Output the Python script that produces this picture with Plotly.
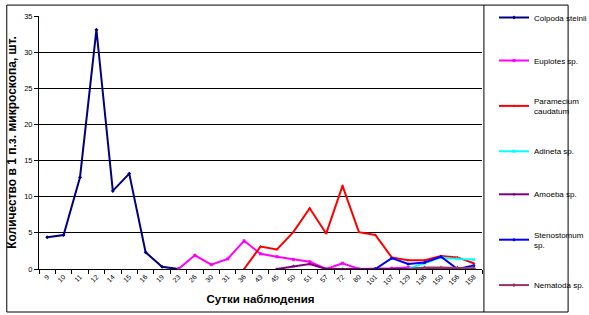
import plotly.graph_objects as go

days = ["9", "10", "11", "12", "14", "15", "16", "19", "23", "26", "30", "31", "36", "43",
        "45", "50", "51", "57", "72", "80", "101", "107", "129", "136", "150", "156", "158"]

colpoda = [4.4, 4.7, 12.7, 33.1, 10.8, 13.2, 2.3, 0.3, 0] + [None] * 18
euplotes = [None] * 8 + [0, 1.9, 0.6, 1.4, 3.9, 2.1, 1.7, 1.3, 1.0, 0, 0.8, 0, 0, 0.1, 0.2, 0, 0, 0, 0]
paramecium = [None] * 12 + [0, 3.1, 2.7, 5.1, 8.4, 4.9, 11.5, 5.1, 4.7, 1.6, 1.2, 1.2, 1.8, 1.6, 0.8]
adineta = [None] * 22 + [0, 0.8, 1.6, 1.4, 1.3]
amoeba = [None] * 14 + [0, 0.4, 0.7, 0, 0, 0, 0, 0, 0, 0, 0, 0, 0]
stenostomum = [None] * 20 + [0, 1.5, 0.7, 0.9, 1.7, 0, 0.5]
nematoda = [None] * 22 + [0, 0.2, 0.2, 0.2, 0.1]

series = [
    ("Colpoda steinii", colpoda, "#000080", "diamond"),
    ("Euplotes sp.", euplotes, "#FF00FF", "square"),
    ("Paramecium<br>caudatum", paramecium, "#FF0000", "triangle-up"),
    ("Adineta sp.", adineta, "#00FFFF", "x"),
    ("Amoeba sp.", amoeba, "#800080", "star"),
    ("Stenostomum<br>sp.", stenostomum, "#0000FF", "circle"),
    ("Nematoda sp.", nematoda, "#993366", "cross"),
]

fig = go.Figure()
for i, (name, vals, col, sym) in enumerate(series):
    fig.add_trace(go.Scatter(
        x=days, y=vals, name=name, mode="lines+markers",
        line=dict(color=col, width=2),
        marker=dict(color=col, size=3, symbol=sym),
        legendgroup=f"g{i}",
    ))

W, H = 589, 315
L, R, T, B = 37.5, 498, 14, 268.7
pw, ph = R - L, B - T

def px(x):
    return (x - L) / pw

def py(y):
    return (B - y) / ph

fig.update_layout(
    width=W, height=H,
    margin=dict(l=L, r=W - R, t=T, b=H - B, pad=0),
    paper_bgcolor="white", plot_bgcolor="white",
    font=dict(family="Liberation Sans, Arial, sans-serif", color="black", size=8),
    showlegend=True,
    legend=dict(
        xref="container", yref="container",
        x=494 / W, y=1 - 3 / H, xanchor="left", yanchor="top",
        font=dict(size=8), tracegroupgap=24, traceorder="grouped",
        bgcolor="rgba(0,0,0,0)", itemwidth=30, maxheight=312,
        borderwidth=0,
    ),
    shapes=[
        dict(type="rect", xref="paper", yref="paper",
             x0=px(4), x1=px(587.5), y0=py(312), y1=py(3),
             line=dict(color="black", width=1)),
        dict(type="line", xref="paper", yref="paper",
             x0=px(500), x1=px(500), y0=py(312), y1=py(3),
             line=dict(color="black", width=1)),
    ],
)

fig.update_xaxes(
    type="category", range=[-0.5, 26.5],
    showline=True, linecolor="black", linewidth=1,
    ticks="outside", ticklen=4, tickcolor="black", tickson="boundaries",
    tickangle=-45, tickfont=dict(size=7),
    showgrid=False, zeroline=False,
    title=dict(text="<b>Сутки наблюдения</b>", font=dict(size=11.5), standoff=9),
)
fig.update_yaxes(
    range=[0, 35], dtick=5, tick0=0,
    showline=True, linecolor="black", linewidth=1,
    ticks="outside", ticklen=4, tickcolor="black",
    showgrid=True, gridcolor="black", gridwidth=1,
    zeroline=False, tickfont=dict(size=7.5),
    title=dict(text="<b>Количество в 1 п.з. микроскопа, шт.</b>", font=dict(size=12), standoff=4),
)

fig.write_html("out.html")
